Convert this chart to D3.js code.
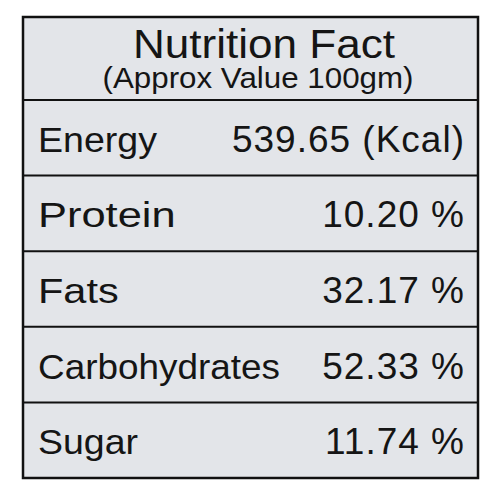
<!DOCTYPE html><html><head><meta charset="utf-8"><script src="https://cdn.jsdelivr.net/npm/d3@7"></script>
<style>body{margin:0;background:#fff}</style></head><body><svg id="c" width="492" height="500"></svg>
<script>
const title = "Nutrition Fact";
const subtitle = "(Approx Value 100gm)";
const nutrients = ["Energy","Protein","Fats","Carbohydrates","Sugar"];
const values = ["539.65 (Kcal)","10.20 %","32.17 %","52.33 %","11.74 %"];

const svg = d3.select("#c");
const L=23, R=478, T=17, B=478, H=100;
const F="Liberation Sans, Arial";
svg.append("rect").attr("x",L).attr("y",T).attr("width",R-L).attr("height",B-T)
  .attr("fill","#e3e5e9").attr("stroke","#111").attr("stroke-width",2.5);
const y = d3.scaleBand().domain(nutrients).range([H,B]);
svg.append("text").attr("x",264).attr("y",58).attr("text-anchor","middle")
  .attr("font-family",F).attr("font-size",40).attr("font-weight",500).attr("fill","#151515")
  .attr("textLength",262).attr("lengthAdjust","spacingAndGlyphs").text(title);
svg.append("text").attr("x",258).attr("y",88).attr("text-anchor","middle")
  .attr("font-family",F).attr("font-size",29).attr("fill","#151515")
  .attr("textLength",311).attr("lengthAdjust","spacingAndGlyphs").text(subtitle);
svg.selectAll("line.d").data([H,...nutrients.slice(1).map(n=>y(n))]).join("line")
  .attr("x1",L).attr("x2",R).attr("y1",d=>d).attr("y2",d=>d).attr("stroke","#111").attr("stroke-width",2);
const g = svg.selectAll("g.r").data(nutrients).join("g").attr("transform",d=>`translate(0,${y(d)+y.bandwidth()/2+14})`);
g.append("text").attr("x",38).attr("font-family",F).attr("font-size",35).attr("fill","#151515")
  .attr("transform","scale(1,1)").attr("textLength",d=>d.length*d3.scaleLinear().domain([6,13]).range([119/6,242/13])(d.length))
  .attr("lengthAdjust","spacingAndGlyphs").text(d=>d);
g.append("text").attr("x",465).attr("text-anchor","end").attr("font-family",F).attr("font-size",37).attr("fill","#151515").attr("letter-spacing",1).text((d,i)=>values[i]);
</script></body></html>
